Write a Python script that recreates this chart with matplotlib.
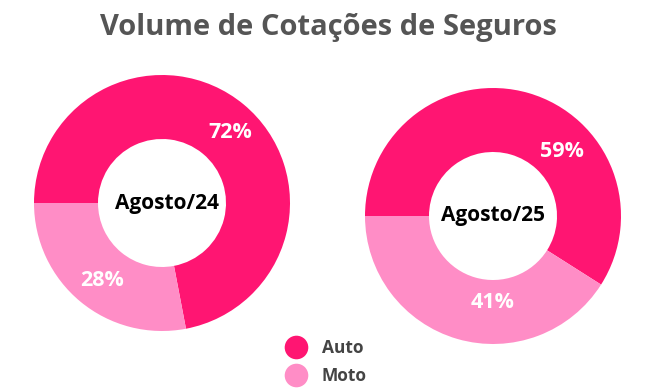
import matplotlib
matplotlib.use("Agg")
import matplotlib.pyplot as plt
from matplotlib.lines import Line2D

# Data
categories = ["Auto", "Moto"]
periods = ["Agosto/24", "Agosto/25"]
shares_ago24 = [72, 28]
shares_ago25 = [59, 41]

colors = ["#FF1572", "#FF8DC6"]
title_color = "#555555"
font = "Open Sans"

W, H = 656, 391
fig = plt.figure(figsize=(W / 100, H / 100), dpi=100)
fig.patch.set_facecolor("white")

fig.text(328 / W, 1 - 28 / H, "Volume de Cotações de Seguros", ha="center", va="center",
         fontsize=21, fontweight="bold", color=title_color, family=font)

# (center_x, center_y, radius) in pixels, label positions as (dx, dy) offsets in px
layouts = [
    dict(cx=162, cy=203, r=128, lab=[(68, 70), (-60, -77)], cdx=5),
    dict(cx=493, cy=216, r=128, lab=[(69, 64), (0, -87)], cdx=0),
]

for shares, period, lay in zip([shares_ago24, shares_ago25], periods, layouts):
    size = 2 * lay["r"] + 6
    half = size / 2
    ax = fig.add_axes([(lay["cx"] - half) / W, 1 - (lay["cy"] + half) / H,
                       size / W, size / H])
    rr = lay["r"] / half
    wedges, texts, autotexts = ax.pie(
        shares, colors=colors, startangle=180, counterclock=False, radius=rr,
        wedgeprops=dict(width=rr * 0.5, linewidth=0),
        autopct=lambda p: f"{round(p)}%", pctdistance=0.75,
        textprops=dict(color="white", fontsize=15.5, fontweight="bold", family=font))
    for t, (dx, dy) in zip(autotexts, lay["lab"]):
        t.set_position((dx / half, dy / half))
        t.set_ha("center")
        t.set_va("center")
    ax.text(lay["cdx"] / half, 0, period, ha="center", va="center", fontsize=15,
            fontweight="bold", color="black", family=font)
    ax.set_xlim(-1, 1)
    ax.set_ylim(-1, 1)
    ax.set_aspect("equal")
    ax.axis("off")

handles = [Line2D([0], [0], marker="o", linestyle="", markersize=17,
                  markerfacecolor=c, markeredgewidth=0) for c in colors]
fig.legend(handles, categories, loc="center", bbox_to_anchor=(327 / W, 1 - 362 / H),
           frameon=False, handletextpad=1.0, labelspacing=0.6, handlelength=1.0,
           prop=dict(family=font, weight="bold", size=12.5), labelcolor="#444444")

fig.savefig("out.png", dpi=100, facecolor="white")
